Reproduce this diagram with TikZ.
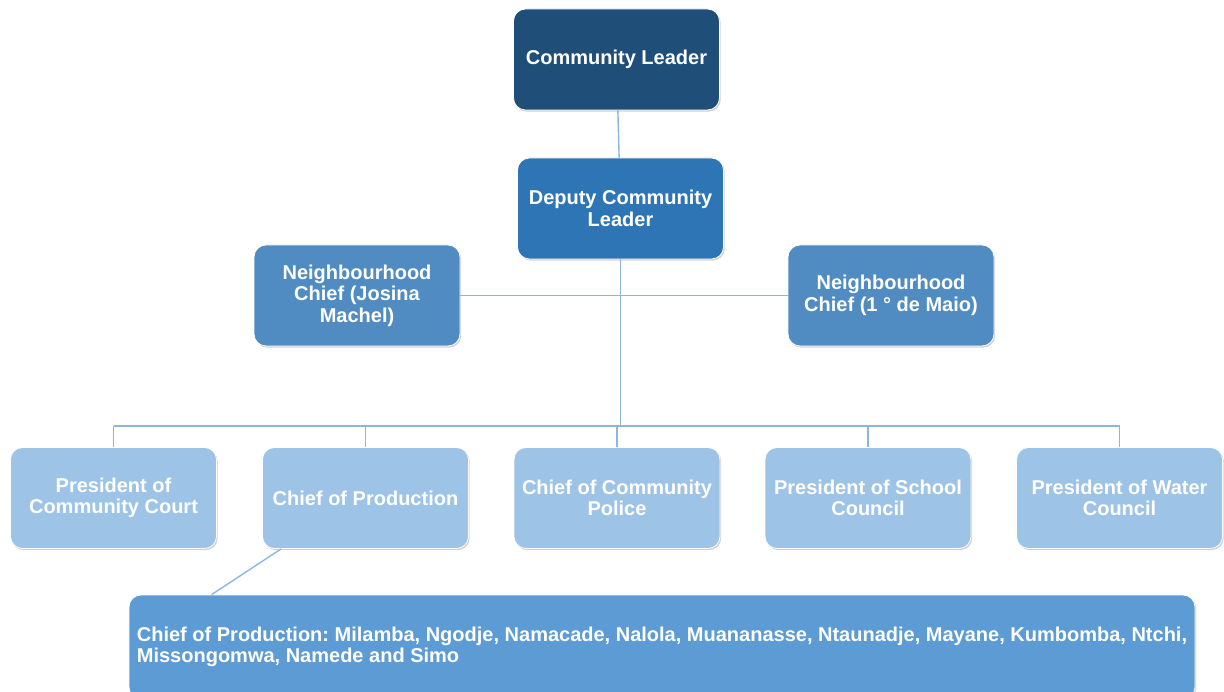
\documentclass[tikz,border=0pt]{standalone}
\usepackage{fontspec}
\setmainfont{Liberation Sans}
\usetikzlibrary{positioning,shadows}

\definecolor{leaderblue}{RGB}{31,78,121}
\definecolor{deputyblue}{RGB}{46,117,182}
\definecolor{chiefblue}{RGB}{80,139,194}
\definecolor{rowblue}{RGB}{157,195,230}
\definecolor{listblue}{RGB}{93,155,213}
\definecolor{linkblue}{RGB}{142,180,227}

\begin{document}
\frenchspacing
\begin{tikzpicture}[
  x=1pt, y=-1pt,
  font=\bfseries\fontsize{20}{21.5}\selectfont,
  box/.style={draw=white, line width=0.8pt, rounded corners=12pt, text=white,
              align=center, inner sep=4pt,
              minimum width=206pt, minimum height=101pt,
              drop shadow={shadow xshift=1.2pt, shadow yshift=-1.6pt,
                           opacity=0.3, fill=black!60}},
  leaderbox/.style={box, fill=leaderblue},
  deputybox/.style={box, fill=deputyblue},
  chiefbox/.style={box, fill=chiefblue},
  rowbox/.style={box, fill=rowblue},
  listbox/.style={box, fill=listblue, minimum width=1066pt, minimum height=104pt},
  link/.style={draw=linkblue, line width=1.4pt},
]
\useasboundingbox (0,0) rectangle (1224,692);

\node[leaderbox] (leader) at (616.5,59.5)  {Community Leader};
\node[deputybox] (deputy) at (620.5,208.5) {Deputy Community\\Leader};
\node[chiefbox]  (nbleft)  at (357,295.5)  {Neighbourhood\\Chief (Josina\\Machel)};
\node[chiefbox]  (nbright) at (891,295.5)  {Neighbourhood\\Chief (1 ° de Maio)};

\node[rowbox] (court)  at (113.5,498) {President of\\Community Court};
\node[rowbox] (prod)   at (365.5,498) {Chief of Production};
\node[rowbox] (police) at (617,498)   {Chief of Community\\Police};
\node[rowbox] (school) at (868,498)   {President of School\\Council};
\node[rowbox] (water)  at (1119.5,498) {President of Water\\Council};

\node[listbox, align=left] (prodlist) at (662,647)
  {Chief of Production: Milamba, Ngodje, Namacade, Nalola, Muananasse, Ntaunadje, Mayane, Kumbomba, Ntchi,\\
   Missongomwa, Namede and Simo};

\coordinate (bus) at (617,426);

\draw[link] (leader) -- (deputy);
\draw[link] (deputy.south) -- (deputy.south |- bus);
\draw[link] (deputy.south |- nbleft.east) -- (nbleft.east);
\draw[link] (deputy.south |- nbright.west) -- (nbright.west);
\draw[link] (court.north |- bus) -- (water.north |- bus);
\foreach \n in {court,prod,police,school,water}
  \draw[link] (\n.north |- bus) -- (\n.north);
\draw[link] ([xshift=19pt]prod.south west) -- ([xshift=83pt]prodlist.north west);
\end{tikzpicture}
\end{document}
